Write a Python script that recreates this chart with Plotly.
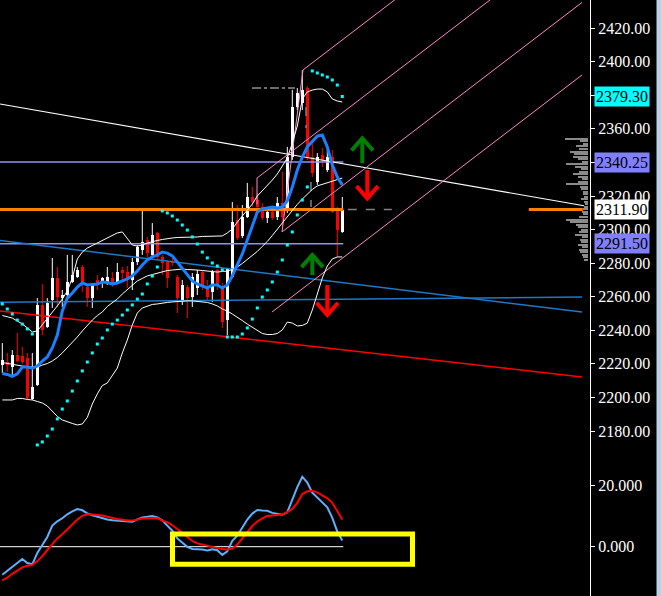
import plotly.graph_objects as go

# ---------------- price bars (index = bar number) ----------------
opens = [2219.3, 2221.1, 2218.1, 2225.3, 2224.7, 2223.5, 2199.1, 2207.4, 2255.1, 2242.0,
         2258.1, 2271.2, 2259.2, 2261.0, 2268.8, 2271.8, 2277.7, 2265.8, 2259.2, 2270.0,
         2268.2, 2268.8, 2271.2, 2268.8, 2275.9, 2274.7, 2270.0, 2280.7, 2287.8, 2293.8,
         2284.9, 2298.0, 2283.7, 2280.7, 2280.7, 2271.8, 2258.1, 2265.8, 2259.8, 2265.2,
         2274.7, 2266.4, 2262.8, 2275.9, 2264.6, 2246.1, 2271.8, 2305.7, 2296.2, 2307.5,
         2319.4, 2317.6, 2313.5, 2306.9, 2310.5, 2307.5, 2315.8, 2311.7, 2343.2, 2373.0,
         2375.4, 2384.3, 2343.2, 2328.3, 2344.4, 2335.5, 2343.2, 2311.7, 2298.6]
highs = [2232.4, 2226.5, 2228.3, 2238.4, 2230.1, 2226.5, 2226.5, 2259.2, 2267.6, 2259.2,
         2283.1, 2277.7, 2264.0, 2284.9, 2284.9, 2277.7, 2278.9, 2267.0, 2268.2, 2272.9,
         2271.8, 2277.7, 2274.7, 2280.1, 2277.7, 2278.3, 2283.1, 2290.8, 2311.7, 2295.6,
         2303.9, 2298.6, 2284.9, 2281.9, 2283.1, 2272.9, 2270.0, 2267.0, 2274.1, 2275.9,
         2275.9, 2270.0, 2275.9, 2276.5, 2268.2, 2277.1, 2316.4, 2314.6, 2314.6, 2327.8,
         2325.4, 2321.8, 2315.8, 2312.9, 2312.9, 2319.4, 2334.3, 2349.2, 2383.2, 2384.3,
         2395.0, 2385.5, 2353.4, 2345.6, 2348.6, 2347.4, 2347.4, 2313.5, 2319.4]
lows = [2214.6, 2215.2, 2213.4, 2221.1, 2219.9, 2198.5, 2198.5, 2206.8, 2237.2, 2241.4,
        2253.3, 2253.9, 2253.9, 2258.1, 2268.2, 2271.2, 2262.8, 2253.9, 2253.3, 2264.0,
        2265.2, 2267.0, 2265.8, 2268.2, 2268.8, 2265.2, 2264.0, 2278.9, 2284.9, 2283.1,
        2283.7, 2281.9, 2272.9, 2265.2, 2278.3, 2250.3, 2255.1, 2247.3, 2253.9, 2261.0,
        2264.0, 2258.1, 2256.9, 2264.0, 2241.4, 2237.2, 2271.2, 2293.8, 2295.0, 2306.9,
        2313.5, 2312.9, 2305.7, 2303.9, 2305.7, 2305.7, 2300.9, 2309.9, 2341.5, 2371.2,
        2371.2, 2341.5, 2331.3, 2326.6, 2337.3, 2334.3, 2309.9, 2283.7, 2298.0]
closes = [2222.3, 2219.3, 2225.3, 2221.7, 2221.1, 2199.7, 2206.2, 2255.1, 2240.2, 2256.3,
          2271.2, 2259.8, 2261.0, 2268.8, 2272.9, 2275.9, 2268.2, 2259.2, 2267.0, 2268.2,
          2271.2, 2271.8, 2267.0, 2274.7, 2274.1, 2270.0, 2280.7, 2289.6, 2292.6, 2286.1,
          2296.8, 2283.7, 2280.1, 2271.2, 2280.1, 2259.2, 2267.0, 2259.2, 2271.8, 2273.5,
          2265.8, 2259.8, 2274.7, 2267.0, 2244.9, 2276.5, 2304.5, 2295.0, 2307.5, 2319.4,
          2316.4, 2313.5, 2306.9, 2310.5, 2306.9, 2315.8, 2307.5, 2343.2, 2373.0, 2381.4,
          2383.2, 2343.2, 2333.7, 2343.2, 2341.5, 2343.2, 2310.5, 2299.8, 2311.9]

# ---------------- indicators ----------------
ma_fast = [2214.3, 2213.7, 2212.5, 2214.0, 2218.1, 2218.1, 2217.5, 2218.7, 2221.7, 2224.1,
           2229.5, 2237.2, 2251.5, 2259.2, 2262.2, 2265.8, 2268.2, 2267.0, 2267.3, 2267.6,
           2268.8, 2268.5, 2267.6, 2268.2, 2269.4, 2270.6, 2272.4, 2275.3, 2278.9, 2281.9,
           2283.7, 2284.9, 2286.6, 2286.0, 2284.3, 2280.7, 2277.1, 2272.9, 2269.4, 2267.6,
           2266.4, 2265.2, 2267.0, 2267.0, 2265.2, 2267.0, 2272.4, 2278.9, 2285.5, 2293.8,
           2302.7, 2310.5, 2312.3, 2312.9, 2313.5, 2312.9, 2313.5, 2317.0, 2325.4, 2335.5,
           2343.2, 2349.2, 2352.2, 2355.7, 2356.3, 2349.2, 2338.5, 2331.3, 2326.6]
bb_upper = [2248.8, 2248.2, 2247.3, 2245.5, 2243.8, 2241.4, 2239.0, 2239.6, 2243.2, 2247.3,
            2250.9, 2254.5, 2258.6, 2263.4, 2271.2, 2282.5, 2286.6, 2289.0, 2290.5, 2292.0,
            2293.5, 2295.0, 2296.5, 2298.0, 2298.6, 2295.0, 2290.8, 2290.2, 2290.8, 2292.0,
            2292.9, 2293.5, 2294.1, 2294.7, 2295.0, 2295.3, 2295.3, 2295.6, 2295.6, 2295.6,
            2295.9, 2295.9, 2295.9, 2296.2, 2296.2, 2298.0, 2300.3, 2304.5, 2308.1, 2311.7,
            2315.2, 2320.0, 2323.0, 2326.0, 2329.5, 2333.1, 2337.9, 2342.6, 2351.6, 2361.7,
            2377.8, 2382.0, 2383.1, 2383.7, 2383.7, 2382.0, 2377.8, 2376.6, 2376.0]
bb_middle = [2220.8, 2220.2, 2219.6, 2219.0, 2218.7, 2218.4, 2218.1, 2218.1, 2219.3, 2220.2,
             2221.7, 2223.8, 2226.5, 2229.5, 2232.4, 2236.0, 2239.6, 2242.9, 2246.1, 2248.8,
             2250.9, 2254.2, 2256.3, 2258.6, 2261.6, 2264.3, 2267.0, 2269.4, 2270.9, 2272.4,
             2273.2, 2274.1, 2275.0, 2275.6, 2275.9, 2276.2, 2276.5, 2276.2, 2276.2, 2275.9,
             2275.6, 2275.3, 2275.0, 2274.7, 2275.0, 2275.3, 2276.2, 2277.7, 2279.8, 2282.2,
             2284.3, 2287.0, 2290.0, 2292.9, 2296.5, 2300.3, 2303.9, 2307.5, 2311.1, 2315.0,
             2318.2, 2321.2, 2323.9, 2326.0, 2326.9, 2328.0, 2328.9, 2329.8, 2330.7]
bb_lower = [2198.5, 2198.5, 2198.5, 2199.4, 2199.4, 2198.8, 2198.5, 2197.6, 2196.7, 2194.9,
            2191.9, 2188.7, 2186.6, 2185.4, 2184.5, 2183.6, 2184.2, 2188.1, 2196.1, 2202.1,
            2207.1, 2208.6, 2212.8, 2217.5, 2226.5, 2234.2, 2243.2, 2250.3, 2253.3, 2254.5,
            2255.4, 2255.7, 2256.3, 2256.6, 2256.9, 2257.2, 2257.5, 2257.5, 2257.5, 2257.2,
            2256.9, 2256.6, 2255.7, 2254.5, 2252.7, 2251.5, 2249.7, 2247.9, 2245.8, 2243.7,
            2242.0, 2240.2, 2238.1, 2237.5, 2237.5, 2238.1, 2240.2, 2244.9, 2244.3, 2242.6,
            2242.9, 2244.3, 2252.1, 2261.6, 2271.2, 2278.3, 2282.5, 2283.7, 2283.7]
sar = [2255.7, 2252.7, 2249.7, 2246.1, 2243.7, 2240.8, 2237.8, 2171.7, 2173.5, 2177.0,
       2181.2, 2187.2, 2193.1, 2197.9, 2203.8, 2209.8, 2215.8, 2221.1, 2226.5, 2231.8,
       2235.4, 2240.2, 2243.7, 2246.1, 2249.1, 2252.1, 2255.1, 2258.6, 2261.6, 2267.6,
       2272.3, 2277.7, 2311.1, 2309.9, 2308.1, 2305.7, 2302.7, 2299.7, 2295.6, 2291.4,
       2286.6, 2283.1, 2280.1, 2278.3, 2275.9, 2236.0, 2236.0, 2236.0, 2237.8, 2241.4,
       2246.7, 2253.3, 2259.8, 2264.0, 2268.8, 2274.7, 2281.9, 2290.8, 2298.6, 2308.7,
       2317.6, 2325.4, 2394.5, 2393.3, 2392.1, 2390.9, 2389.1, 2386.1, 2379.3]

# oscillator pane
osc_main = [-9.08, -7.81, -6.48, -5.12, -3.99, -5.28, -5.70, -2.04, 0.55, 3.14,
            6.87, 8.23, 9.21, 10.50, 11.47, 12.19, 11.80, 10.79, 10.21, 9.69,
            9.27, 8.85, 8.59, 8.46, 8.33, 8.20, 8.10, 8.88, 9.50, 9.69,
            9.92, 9.50, 8.56, 6.84, 5.19, 2.69, 1.20, -0.03, -0.75, -0.75,
            -0.91, -1.23, -0.84, -1.13, -2.66, -1.52, 1.94, 3.57, 6.26, 8.82,
            10.73, 11.90, 11.73, 11.64, 10.96, 10.57, 10.34, 11.18, 15.23, 19.32,
            22.69, 20.78, 17.50, 16.01, 14.39, 12.77, 9.37, 4.93, 2.01]
osc_signal = [-10.92, -10.05, -8.78, -7.68, -6.68, -6.16, -5.96, -4.67, -3.11, -1.07,
              0.84, 2.69, 4.02, 5.71, 7.23, 8.78, 10.02, 10.50, 10.41, 10.31,
              10.08, 9.69, 9.27, 8.98, 8.72, 8.46, 8.46, 8.82, 9.14, 9.21,
              9.21, 9.21, 8.46, 7.97, 6.94, 5.87, 4.51, 3.14, 1.91, 1.07,
              0.71, 0.36, -0.06, -0.49, -0.78, -0.88, -0.58, 0.68, 2.76, 4.57,
              6.71, 8.14, 9.21, 9.95, 10.15, 10.31, 10.47, 11.25, 12.25, 14.23,
              17.08, 17.96, 18.12, 17.60, 16.76, 15.69, 14.23, 11.70, 8.85]

# volume-at-price profile
profile_levels = [2354.0, 2352.5, 2351.0, 2349.5, 2348.0, 2346.5, 2345.0, 2343.5, 2342.0, 2340.5,
                  2339.0, 2337.5, 2336.0, 2334.5, 2333.0, 2331.5, 2330.0, 2328.5, 2327.0, 2325.5,
                  2324.0, 2322.5, 2321.0, 2319.5, 2318.0, 2316.5, 2315.0, 2313.5, 2312.0, 2310.5,
                  2309.0, 2307.5, 2306.0, 2304.5, 2303.0, 2301.5, 2300.0, 2298.5, 2297.0, 2295.5,
                  2294.0, 2292.5, 2291.0, 2289.5, 2288.0, 2286.5, 2285.0, 2283.5, 2282.0]
profile_volume = [23, 8, 5, 12, 9, 18, 14, 15, 10, 6,
                  22, 13, 7, 9, 15, 10, 6, 10, 22, 8,
                  7, 5, 5, 4, 7, 4, 3, 4, 5, 6,
                  5, 9, 22, 18, 12, 10, 7, 9, 13, 6,
                  8, 7, 10, 6, 9, 8, 6, 5, 4]

# axis ticks (labels under a price tag are left blank)
price_ticks = [2180, 2200, 2220, 2240, 2260, 2280, 2300, 2320, 2340, 2360, 2380, 2400, 2420]
covered_ticks = [2340, 2380]
osc_ticks = [0, 20]

# drawn objects: levels, trend lines (bar, price), pitchfork, signals
level_high = 2340.25
level_low = 2291.50
last_price = 2311.90
sar_last = 2379.30
swing_high = 2384.3

trend_white = [(-0.46, 2374.8), (116.34, 2314.2)]
channel_blue_a = [(-0.46, 2293.5), (115.94, 2250.9)]
channel_blue_b = [(-0.46, 2256.7), (115.94, 2259.8)]
trend_red = [(-0.46, 2251.5), (115.94, 2212.2)]

fork_lines = [
    [(55.94, 2298.6), (60.14, 2395.1), (80.0, 2440.3)],
    [(50.94, 2315.0), (50.94, 2330.7), (100.0, 2442.4)],
    [(55.94, 2298.6), (115.94, 2435.3)],
    [(53.94, 2250.9), (115.94, 2392.1)],
]

# signal arrows: (bar, tail price, tip price)
buy_signals = [(72, 2339.5, 2354.4), (62, 2272.9, 2284.9)]
sell_signals = [(73, 2335.5, 2318.6), (65, 2267.0, 2249.1)]

# highlighted oscillator zone
zone_bars = (34.04, 82.04)
zone_values = (-5.7, 4.1)

# ---------------- figure ----------------
n = len(opens)
bars = list(range(n))
up = [i for i in bars if closes[i] >= opens[i]]
dn = [i for i in bars if closes[i] < opens[i]]
x_left, x_right = -0.46, 117.54
chart_end = 68.2

fig = go.Figure()


def bodies(idx, color):
    fig.add_trace(go.Bar(
        x=idx,
        base=[min(opens[i], closes[i]) for i in idx],
        y=[max(abs(closes[i] - opens[i]), 0.6) for i in idx],
        width=0.6, marker=dict(color=color, line=dict(width=0)),
        hoverinfo="skip"))


def wicks(idx, color):
    xs, ys = [], []
    for i in idx:
        xs += [i, i, None]
        ys += [lows[i], highs[i], None]
    fig.add_trace(go.Scatter(x=xs, y=ys, mode="lines",
                             line=dict(color=color, width=1), hoverinfo="skip"))


def seg(points, color, width=1, dash=None, yaxis="y"):
    fig.add_trace(go.Scatter(x=[p[0] for p in points], y=[p[1] for p in points],
                             mode="lines", yaxis=yaxis,
                             line=dict(color=color, width=width, dash=dash),
                             hoverinfo="skip"))


bodies(up, "#ffffff")
bodies(dn, "#ff0000")

# volume profile, anchored at the right edge of the chart
profile_scale = 0.2
fig.add_trace(go.Bar(
    y=profile_levels, x=[-v * profile_scale for v in profile_volume],
    base=117.14, orientation="h", width=0.6,
    marker=dict(color="#8a8a8a", line=dict(width=0)), hoverinfo="skip"))

wicks(up, "#ffffff")
wicks(dn, "#ff0000")

# horizontal levels
seg([(x_left, level_high), (chart_end, level_high)], "#9090ff", 1.5)
seg([(x_left, level_low), (chart_end, level_low)], "#9090ff", 1.5)
seg([(x_left, last_price), (chart_end, last_price)], "#ff8000", 3)
seg([(69.1, last_price), (77.9, last_price)], "#808080", 1.5, "dash")
seg([(105.3, last_price), (116.1, last_price)], "#ff8000", 3)
seg([(49.94, swing_high), (58.54, swing_high)], "#909090", 1.5, "dashdot")
seg([(60.74, 2373.0), (60.74, 2360.5)], "#808080", 1.5, "dash")
seg([(61.74, 2328.3), (61.74, 2313.4)], "#808080", 1.5, "dash")

# trend lines
seg(trend_white, "#ffffff", 1.2)
seg(channel_blue_a, "#1f78c4", 1.5)
seg(channel_blue_b, "#1f78c4", 1.5)
seg(trend_red, "#ff0000", 1.5)

# pitchfork
for line in fork_lines:
    seg(line, "#ff88c8", 1)

# Bollinger bands
seg(list(zip(bars, bb_upper)), "#ffffff", 1)
seg(list(zip(bars, bb_middle)), "#ffffff", 1)
seg(list(zip(bars, bb_lower)), "#ffffff", 1)

# fast moving average
seg(list(zip(bars, ma_fast)), "#1a80ff", 3)

# parabolic SAR
fig.add_trace(go.Scatter(x=bars, y=sar, mode="markers",
                         marker=dict(symbol="square", size=3, color="#00ffff",
                                     line=dict(width=0)),
                         hoverinfo="skip"))

# signal arrows
head_w, head_h = 2.15, 7.3
for sigs, color in ((buy_signals, "#008000"), (sell_signals, "#ff0000")):
    for b, tail, tip in sigs:
        d = 1 if tip > tail else -1
        seg([(b - head_w, tip - d * head_h), (b, tip), (b + head_w, tip - d * head_h)],
            color, 4)
        seg([(b, tip), (b, tail)], color, 4)

# oscillator pane
seg([(x_left, 0), (chart_end, 0)], "#ffffff", 1, yaxis="y2")
fig.add_trace(go.Scatter(x=bars, y=osc_main, mode="lines", yaxis="y2",
                         line=dict(color="#5fb0ff", width=2), hoverinfo="skip"))
fig.add_trace(go.Scatter(x=bars, y=osc_signal, mode="lines", yaxis="y2",
                         line=dict(color="#ff0000", width=2), hoverinfo="skip"))

split = 144 / 596
axis_font = dict(family="Liberation Serif", size=16, color="#ffffff")
axis_common = dict(side="right", ticks="outside", ticklen=4, tickwidth=1,
                   tickcolor="#ffffff", showline=True, linecolor="#ffffff",
                   linewidth=1, showgrid=False, zeroline=False,
                   tickfont=axis_font, fixedrange=True)

fig.update_layout(
    width=661, height=596, autosize=False,
    margin=dict(l=0, r=71, t=0, b=0),
    paper_bgcolor="#000000", plot_bgcolor="#000000",
    showlegend=False, barmode="overlay", bargap=0,
    xaxis=dict(range=[x_left, x_right], visible=False, fixedrange=True),
    yaxis=dict(domain=[split, 1], range=[2167.5, 2436.76],
               tickvals=price_ticks,
               ticktext=["" if v in covered_ticks else f"{v:.2f}" for v in price_ticks],
               **axis_common),
    yaxis2=dict(domain=[0, split], range=[-15.98, 30.70], anchor="x",
                tickvals=osc_ticks, ticktext=[f"{v:.3f}" for v in osc_ticks],
                **axis_common),
    shapes=[
        dict(type="rect", xref="x", yref="y2",
             x0=zone_bars[0], x1=zone_bars[1], y0=zone_values[0], y1=zone_values[1],
             line=dict(color="#ffff00", width=5), fillcolor="rgba(0,0,0,0)"),
        dict(type="rect", xref="paper", yref="paper",
             x0=656.5 / 590, x1=662 / 590, y0=0, y1=1,
             line=dict(width=0), fillcolor="#bcd0e6"),
    ],
)

# price tags on the right scale
tags = [(sar_last, "#00ffff"), (level_high, "#8080ff"),
        (last_price, "#ffffff"), (level_low, "#8080ff")]
for value, bg in tags:
    fig.add_annotation(xref="paper", yref="y", x=594 / 590, y=value,
                       xanchor="left", yanchor="middle", showarrow=False,
                       text=f"{value:.2f}", bgcolor=bg, borderpad=1,
                       font=dict(family="Liberation Serif", size=16, color="#000000"))

fig.write_html("out.html")
